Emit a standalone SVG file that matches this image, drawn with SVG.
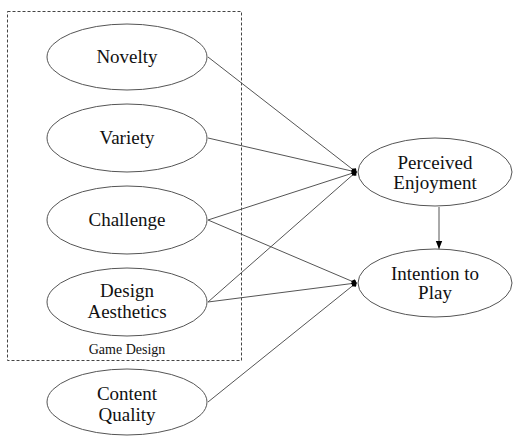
<svg xmlns="http://www.w3.org/2000/svg" width="514" height="436" viewBox="0 0 514 436">
<style>
.n{fill:#fff;stroke:#555;stroke-width:1}
.t{font-family:"Liberation Serif","Times New Roman","DejaVu Serif",serif;font-size:19px;fill:#111;text-anchor:middle}
.e{stroke:#555;stroke-width:1;fill:none}
.g{font-family:"Liberation Serif","Times New Roman","DejaVu Serif",serif;font-size:14px;fill:#111;text-anchor:middle}
</style>
<defs>
<marker id="dot" viewBox="0 0 8 8" refX="7" refY="4" markerWidth="6" markerHeight="6" markerUnits="userSpaceOnUse" orient="auto">
<path d="M0,4 L4,0 L8,4 L4,8 Z" fill="#000"/>
</marker>
<marker id="arr" viewBox="0 0 10 10" refX="10" refY="5" markerWidth="8" markerHeight="8" markerUnits="userSpaceOnUse" orient="auto">
<path d="M0,1 L10,5 L0,9 Z" fill="#000"/>
</marker>
</defs>
<rect x="7.5" y="11.5" width="234" height="349" fill="none" stroke="#444" stroke-width="1" stroke-dasharray="3,2"/>
<text class="g" x="127" y="354">Game Design</text>
<g id="connectors">
<line class="e" x1="208" y1="57" x2="356" y2="172" marker-end="url(#dot)"/>
<line class="e" x1="208" y1="138" x2="356" y2="172" marker-end="url(#dot)"/>
<line class="e" x1="208" y1="220" x2="356" y2="172" marker-end="url(#dot)"/>
<line class="e" x1="208" y1="220" x2="356" y2="283" marker-end="url(#dot)"/>
<line class="e" x1="208" y1="302" x2="356" y2="172" marker-end="url(#dot)"/>
<line class="e" x1="208" y1="302" x2="356" y2="283" marker-end="url(#dot)"/>
<line class="e" x1="208" y1="402" x2="356" y2="283" marker-end="url(#dot)"/>
<line class="e" x1="439" y1="207" x2="439" y2="249" marker-end="url(#arr)"/>
</g>
<g id="novelty"><ellipse class="n" cx="127" cy="57" rx="80" ry="33"/><text class="t" x="127" y="63">Novelty</text></g>
<g id="variety"><ellipse class="n" cx="127" cy="138" rx="80" ry="34"/><text class="t" x="127" y="144">Variety</text></g>
<g id="challenge"><ellipse class="n" cx="127" cy="220" rx="80" ry="34"/><text class="t" x="127" y="226">Challenge</text></g>
<g id="design-aesthetics"><ellipse class="n" cx="127" cy="302" rx="80" ry="34"/><text class="t" x="127" y="297">Design</text><text class="t" x="127" y="318">Aesthetics</text></g>
<g id="content-quality"><ellipse class="n" cx="127" cy="402" rx="80" ry="33"/><text class="t" x="127" y="400">Content</text><text class="t" x="127" y="421">Quality</text></g>
<g id="perceived-enjoyment"><ellipse class="n" cx="435" cy="172" rx="77" ry="34"/><text class="t" x="435" y="169">Perceived</text><text class="t" x="435" y="189">Enjoyment</text></g>
<g id="intention-to-play"><ellipse class="n" cx="435" cy="283" rx="77" ry="34"/><text class="t" x="435" y="280">Intention to</text><text class="t" x="435" y="299">Play</text></g>
</svg>
